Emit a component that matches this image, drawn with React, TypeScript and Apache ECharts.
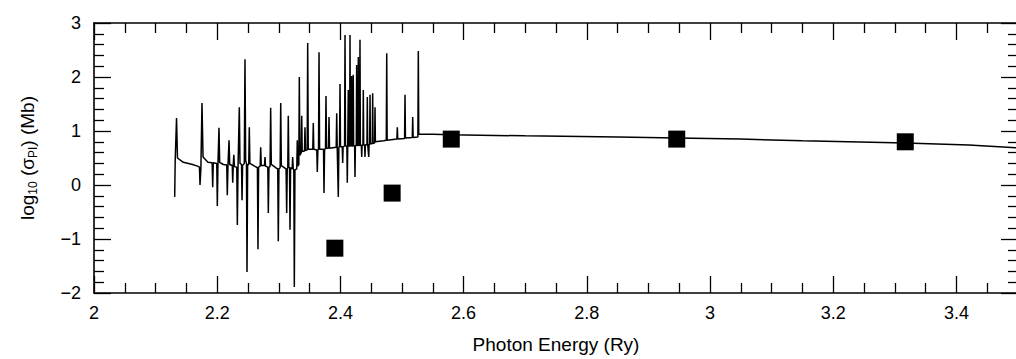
import React, { useEffect, useRef } from "react";
import * as echarts from "echarts";

// Computed cross-section curve: [photon energy (Ry), log10(sigma_PI / Mb)]
const curve: [number, number][] = [
  [2.131, -0.22], [2.1318, 0.45], [2.134, 1.24], [2.1355, 0.5], [2.145, 0.42], [2.16, 0.38], [2.168, 0.35],
  [2.1712, 0.33], [2.1721, 0.0], [2.1735, 0.3], [2.1753, 1.52], [2.177, 0.52], [2.185, 0.42],
  [2.1918, 0.41], [2.1927, -0.04], [2.1936, 0.41],
  [2.1993, 0.4], [2.2002, -0.39], [2.2012, 0.38], [2.2029, 1.06], [2.204, 0.42], [2.21, 0.38],
  [2.2155, 0.37], [2.2164, -0.19], [2.2175, 0.36], [2.2192, 0.83], [2.2203, 0.38],
  [2.2245, 0.36], [2.2252, 0.04], [2.226, 0.36], [2.227, 0.56], [2.228, 0.34],
  [2.2318, 0.33], [2.2327, -0.74], [2.2338, 0.32], [2.2359, 1.44], [2.237, 0.4],
  [2.2395, 0.38], [2.2403, -0.28], [2.2412, 0.36], [2.244, 0.4], [2.2451, 2.33], [2.2462, 0.45],
  [2.2475, 0.4], [2.2484, -1.61], [2.2494, 0.38], [2.2512, 0.38], [2.2521, 1.07], [2.2531, 0.4],
  [2.262, 0.34], [2.2653, 0.32], [2.2662, -1.19], [2.2672, 0.33], [2.2698, 0.35], [2.2706, 0.7], [2.2715, 0.36],
  [2.2768, 0.36], [2.2776, 0.52], [2.2784, 0.35],
  [2.2822, 0.33], [2.283, -0.52], [2.284, 0.33], [2.2858, 0.34], [2.2868, 1.43], [2.2878, 0.38],
  [2.295, 0.32], [2.2983, 0.3], [2.2992, -1.04], [2.3002, 0.3], [2.3022, 0.32], [2.3031, 1.52], [2.3041, 0.36],
  [2.3118, 0.3], [2.3128, -0.52], [2.3137, 0.3], [2.3146, 0.32], [2.3154, 1.28], [2.3163, 0.33],
  [2.3174, 0.32], [2.3182, -0.83], [2.3191, 0.32], [2.3217, 0.3], [2.3225, 0.52], [2.3234, 0.3],
  [2.3244, 0.28], [2.3252, -1.89], [2.3262, 0.28], [2.3292, 0.3], [2.33, 0.83], [2.3308, 0.35],
  [2.3325, 0.38], [2.3333, 2.0], [2.3342, 0.55],
  [2.3364, 0.6], [2.3372, 1.28], [2.338, 0.62],
  [2.3417, 0.63], [2.3425, 1.07], [2.3433, 0.64],
  [2.3461, 0.65], [2.3469, 2.63], [2.3478, 0.66],
  [2.3552, 0.66], [2.356, 1.15], [2.3568, 0.66],
  [2.3617, 0.65], [2.3625, 0.24], [2.3634, 0.65], [2.3645, 0.66], [2.3653, 2.46], [2.3662, 0.66],
  [2.3726, 0.66], [2.3734, -0.15], [2.3743, 0.66], [2.3758, 0.67], [2.3766, 1.65], [2.3775, 0.68],
  [2.3807, 0.68], [2.3815, 1.26], [2.3823, 0.68],
  [2.3932, 0.7], [2.394, 1.33], [2.3948, 0.7],
  [2.3958, 0.7], [2.3966, -0.22], [2.3975, 0.7],
  [2.3986, 0.71], [2.3994, 1.87], [2.4002, 0.71],
  [2.403, 0.71], [2.4037, 0.41], [2.4044, 0.71],
  [2.4068, 0.72], [2.4075, 2.78], [2.4083, 0.72],
  [2.4105, 0.72], [2.4112, 0.04], [2.4119, 0.72],
  [2.4123, 0.72], [2.4128, 1.76], [2.4134, 0.72],
  [2.415, 0.72], [2.4156, 2.78], [2.4162, 0.72],
  [2.4177, 0.72], [2.4183, 2.02], [2.4189, 0.72],
  [2.4203, 0.72], [2.4209, 2.04], [2.4215, 0.72],
  [2.4231, 0.73], [2.4237, 0.15], [2.4243, 0.73],
  [2.4258, 0.73], [2.4264, 2.22], [2.427, 0.73],
  [2.4285, 0.73], [2.4291, 2.37], [2.4297, 0.73],
  [2.4312, 0.73], [2.4318, 2.69], [2.4324, 0.73],
  [2.434, 0.74], [2.4346, 0.52], [2.4352, 0.74],
  [2.4366, 0.74], [2.4372, 1.76], [2.4378, 0.74],
  [2.4393, 0.74], [2.4399, 0.52], [2.4405, 0.74],
  [2.4431, 0.75], [2.4437, 1.63], [2.4443, 0.75],
  [2.4454, 0.75], [2.446, 0.52], [2.4466, 0.75],
  [2.4475, 0.76], [2.4481, 1.67], [2.4487, 0.76],
  [2.4518, 0.77], [2.4524, 1.7], [2.453, 0.77],
  [2.4556, 0.78], [2.4562, 1.44], [2.4568, 0.8],
  [2.47, 0.82],
  [2.4745, 0.83], [2.4752, 2.44], [2.4759, 0.83],
  [2.4917, 0.85], [2.4924, 1.07], [2.4931, 0.85],
  [2.5042, 0.86], [2.5049, 1.67], [2.5056, 0.87],
  [2.5167, 0.88], [2.5174, 1.26], [2.5181, 0.88],
  [2.5258, 0.89], [2.5265, 2.48], [2.5272, 0.94],
  [2.55, 0.94], [2.58, 0.93], [2.7, 0.91], [2.85, 0.89], [2.946, 0.87], [3.05, 0.85],
  [3.15, 0.82], [3.317, 0.78], [3.42, 0.74], [3.5, 0.69],
];

// Filled squares (other calculation)
const squareEnergy: number[] = [2.391, 2.484, 2.58, 2.946, 3.317];
const squareLogSigma: number[] = [-1.17, -0.15, 0.85, 0.85, 0.8];

const X_MIN = 2;
const X_MAX = 3.5;
const X_STEP = 0.2;
const Y_MIN = -2;
const Y_MAX = 3;
const Y_STEP = 1;

const FONT = "'Liberation Sans', Arial, sans-serif";

const fmtY = (v: number) => (v < 0 ? "\u2212" + Math.abs(v) : String(v));
const fmtX = (v: number) => String(Math.round(v * 10) / 10);

export default function App() {
  const ref = useRef<HTMLDivElement>(null);

  useEffect(() => {
    if (!ref.current) return;
    const chart = echarts.init(ref.current, undefined, { renderer: "svg" });
    const axisLine = { show: true, onZero: false, lineStyle: { color: "#000", width: 1.6 } };
    const majorTick = { show: true, inside: true, length: 17, lineStyle: { color: "#000", width: 1.3 } };
    const minorTick = (n: number) => ({ show: true, splitNumber: n, length: 10, lineStyle: { color: "#000", width: 1.3 } });

    chart.setOption({
      animation: false,
      backgroundColor: "#fff",
      grid: { left: 94, top: 23, right: 6, bottom: 66, containLabel: false },
      xAxis: [
        {
          type: "value",
          min: X_MIN,
          max: X_MAX,
          interval: X_STEP,
          position: "bottom",
          axisLine,
          axisTick: majorTick,
          minorTick: minorTick(4),
          splitLine: { show: false },
          axisLabel: { color: "#000", fontSize: 18, fontFamily: FONT, margin: 11, formatter: fmtX, showMaxLabel: false },
          name: "Photon Energy (Ry)",
          nameLocation: "middle",
          nameGap: 42,
          nameTextStyle: { color: "#000", fontSize: 19, fontFamily: FONT },
        },
        {
          type: "value",
          min: X_MIN,
          max: X_MAX,
          interval: X_STEP,
          position: "top",
          axisLine,
          axisTick: majorTick,
          minorTick: minorTick(4),
          splitLine: { show: false },
          axisLabel: { show: false },
        },
      ],
      yAxis: [
        {
          type: "value",
          min: Y_MIN,
          max: Y_MAX,
          interval: Y_STEP,
          position: "left",
          axisLine,
          axisTick: majorTick,
          minorTick: minorTick(5),
          splitLine: { show: false },
          axisLabel: { color: "#000", fontSize: 18, fontFamily: FONT, margin: 13, formatter: fmtY },
          name: "log{sub|10} (σ{sub|PI}) (Mb)",
          nameLocation: "middle",
          nameGap: 55,
          nameTextStyle: {
            color: "#000",
            fontSize: 19,
            fontFamily: FONT,
            lineHeight: 24,
            rich: {
              sub: { fontSize: 12, fontFamily: FONT, color: "#000", lineHeight: 12, verticalAlign: "bottom" },
            },
          },
        },
        {
          type: "value",
          min: Y_MIN,
          max: Y_MAX,
          interval: Y_STEP,
          position: "right",
          axisLine,
          axisTick: majorTick,
          minorTick: minorTick(5),
          splitLine: { show: false },
          axisLabel: { show: false },
        },
      ],
      series: [
        {
          type: "line",
          xAxisIndex: 0,
          yAxisIndex: 0,
          data: curve,
          showSymbol: false,
          symbol: "none",
          lineStyle: { color: "#000", width: 1.5 },
          z: 2,
        },
        {
          type: "scatter",
          xAxisIndex: 0,
          yAxisIndex: 0,
          data: squareEnergy.map((e, i) => [e, squareLogSigma[i]]),
          symbol: "rect",
          symbolSize: 17,
          itemStyle: { color: "#000", opacity: 1 },
          z: 3,
        },
      ],
    });
    return () => chart.dispose();
  }, []);

  return (
    <div style={{ position: "fixed", left: 0, top: 0, width: 1016, height: 359, overflow: "hidden", background: "#fff" }}>
      <div ref={ref} style={{ width: 1024, height: 359 }} />
    </div>
  );
}
